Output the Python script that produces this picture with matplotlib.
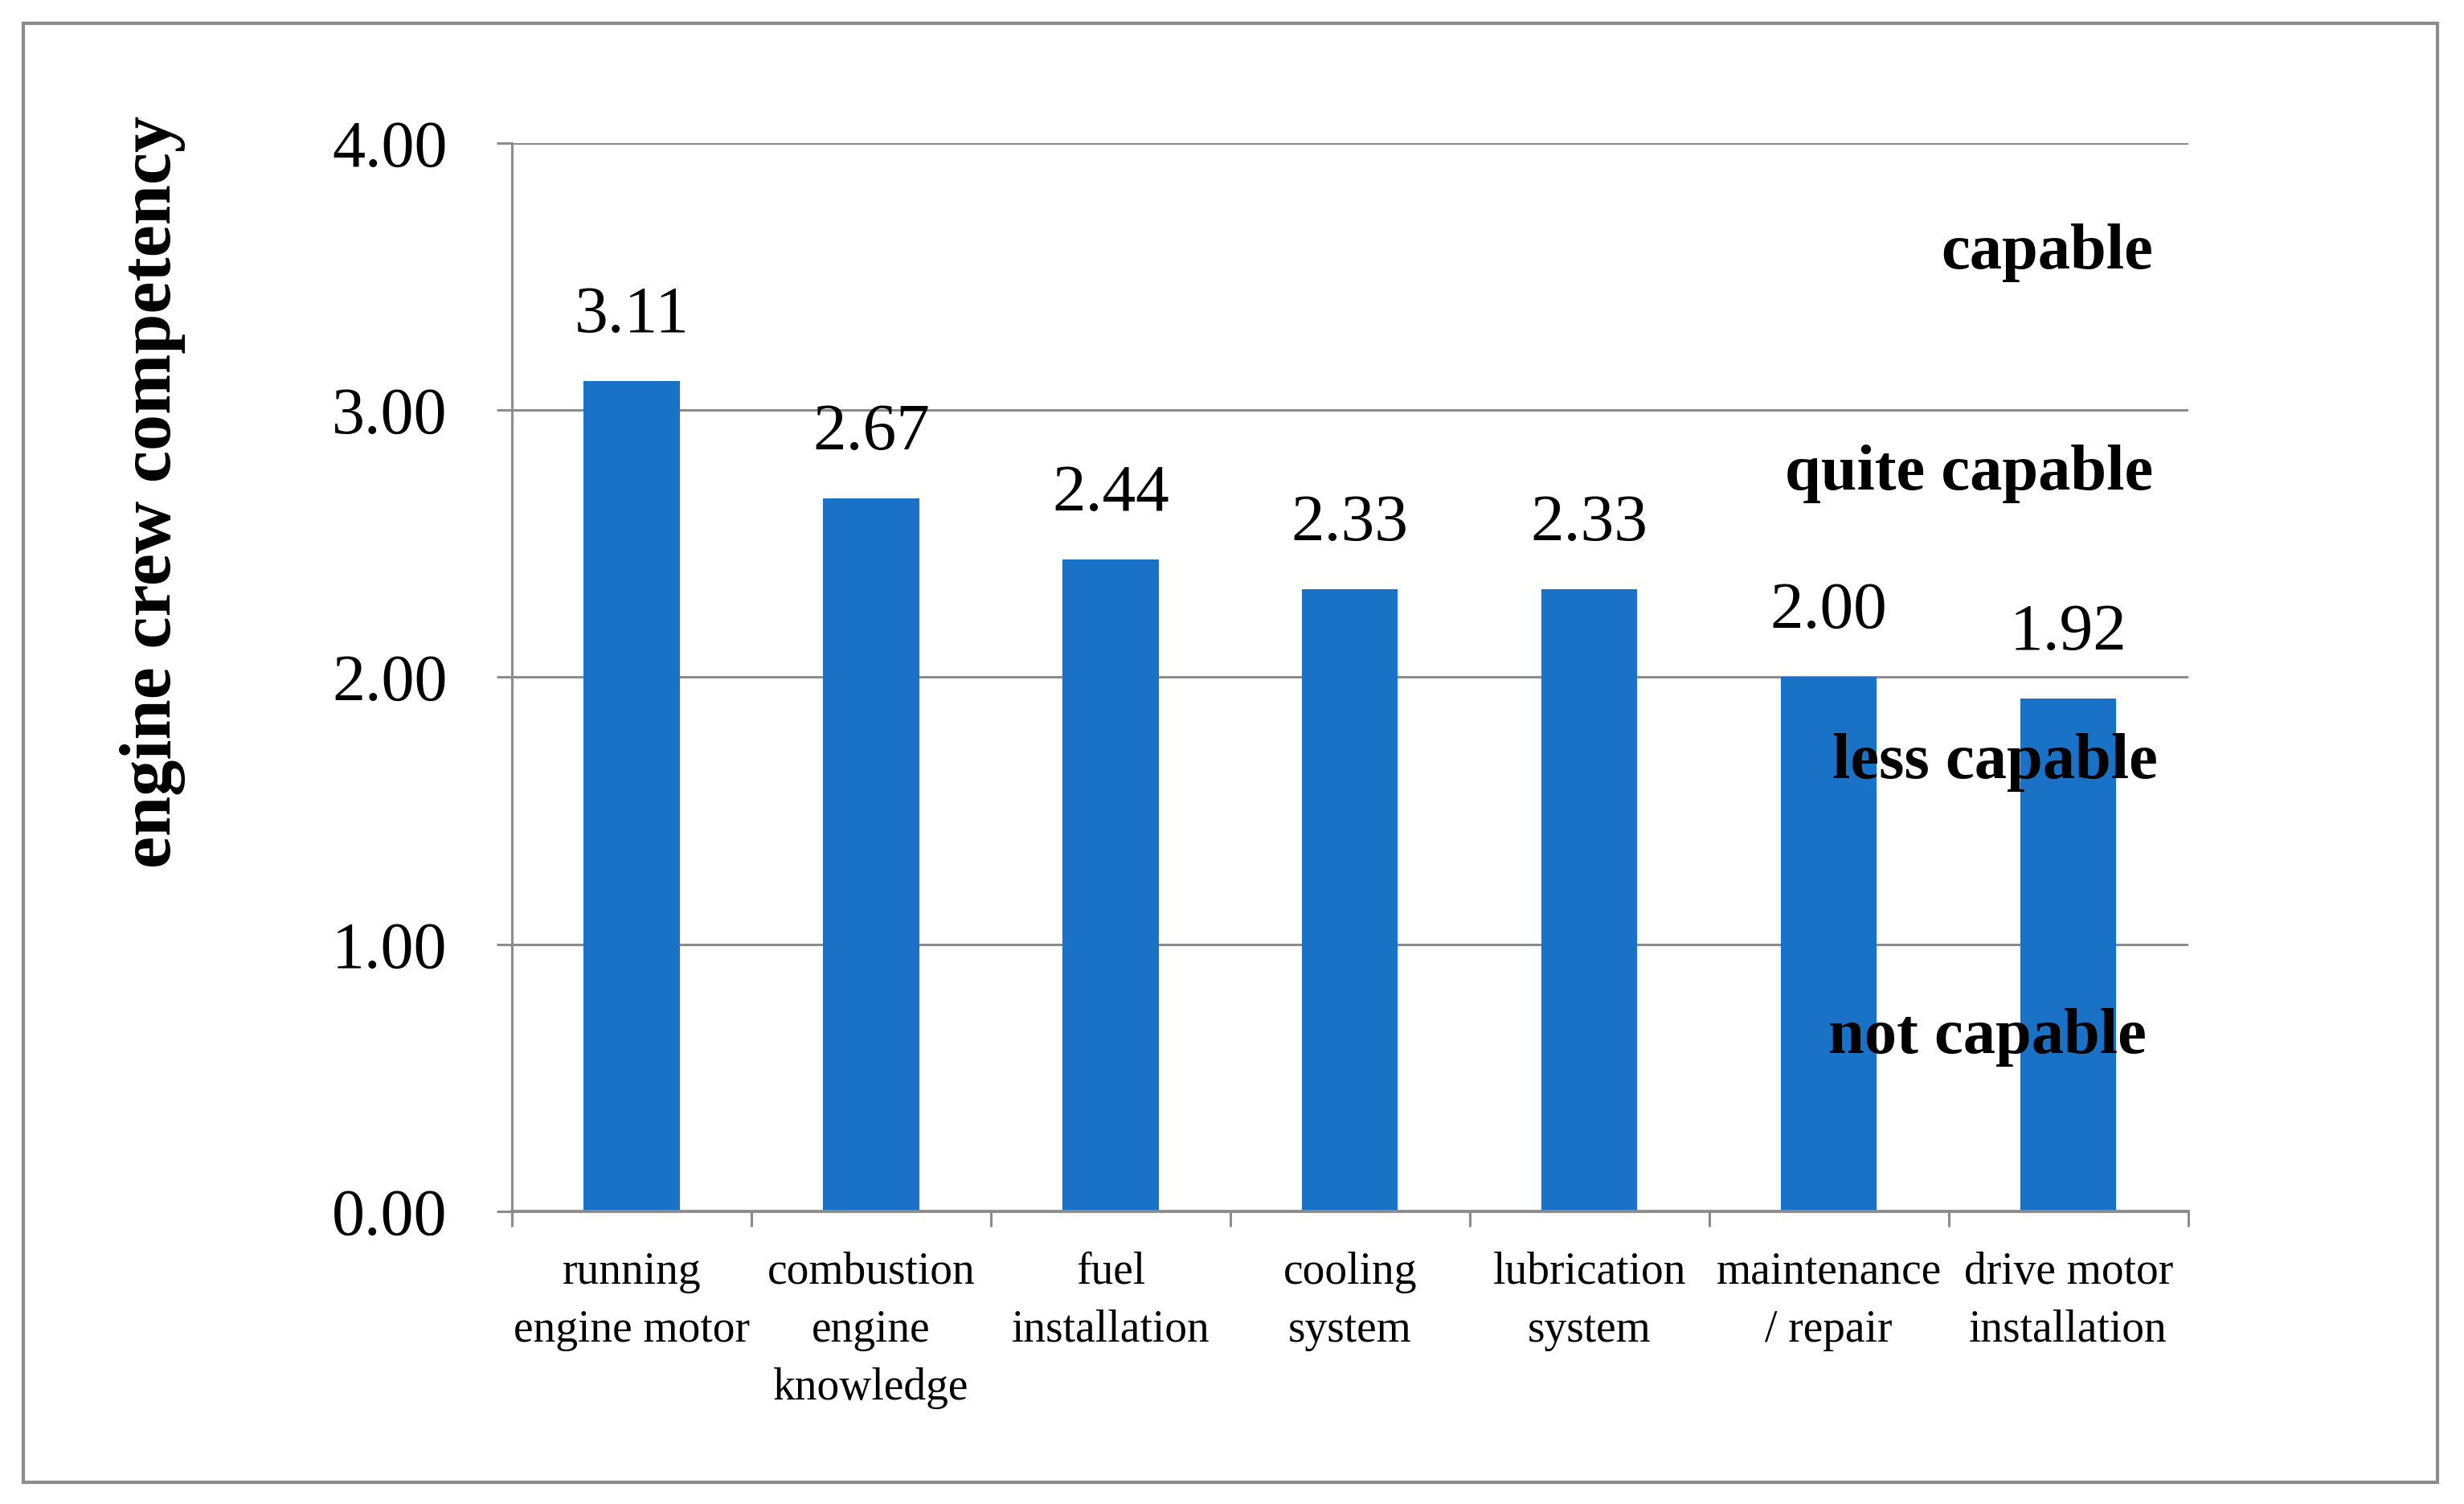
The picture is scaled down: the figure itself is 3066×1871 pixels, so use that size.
import matplotlib
matplotlib.use("Agg")
import matplotlib.pyplot as plt
from matplotlib.patches import Rectangle
import numpy as np

categories = ["running\nengine motor", "combustion\nengine\nknowledge", "fuel\ninstallation",
              "cooling\nsystem", "lubrication\nsystem", "maintenance\n/ repair",
              "drive motor\ninstallation"]
scores = [3.11, 2.67, 2.44, 2.33, 2.33, 2.00, 1.92]
yticks = [0, 1, 2, 3, 4]
band_labels = ["capable", "quite capable", "less capable", "not capable"]
band_y = [3.59, 2.76, 1.68, 0.65]
band_x = [0.979, 0.979, 0.982, 0.975]

plt.rcParams['font.family'] = ['Liberation Serif', 'DejaVu Serif']
grey = "#8c8c8c"
blue = "#1a72c6"

fig = plt.figure(figsize=(30.66, 18.71), dpi=100)
ax = fig.add_axes([0.2078, 0.1946, 0.888 - 0.2078, 0.9049 - 0.1946])

x = np.arange(len(categories))
ax.bar(x, scores, width=0.40, color=blue, zorder=3)

for xi, v in zip(x, scores):
    ax.annotate("%.2f" % v, (xi, v), xytext=(0, 44), textcoords="offset points",
                ha="center", va="baseline", fontsize=60)

ax.set_xlim(-0.5, len(categories) - 0.5)
ax.set_ylim(0, 4)
ax.set_yticks(yticks)
ax.set_yticklabels(["%.2f" % t for t in yticks], fontsize=59)
ax.tick_params(axis="y", length=14, width=2.2, color=grey, pad=44)
ax.grid(axis="y", color=grey, linewidth=2.2, zorder=0)

ax.set_xticks(x)
ax.set_xticklabels(categories, fontsize=40, linespacing=1.5)
ax.set_xticks(np.arange(len(categories) + 1) - 0.5, minor=True)
ax.tick_params(axis="x", which="major", length=0, pad=36)
ax.tick_params(axis="x", which="minor", length=14, width=2.2, color=grey)

for s in ["top", "right"]:
    ax.spines[s].set_visible(False)
ax.spines["left"].set_color(grey)
ax.spines["left"].set_linewidth(2.2)
ax.spines["bottom"].set_color(grey)
ax.spines["bottom"].set_linewidth(2.8)
ax.spines["bottom"].set_zorder(4)

for lab, yy, xx in zip(band_labels, band_y, band_x):
    ax.text(xx, yy, lab, transform=ax.get_yaxis_transform(), ha="right", va="center",
            fontsize=58, fontweight="bold", zorder=5)

fig.text(0.062, 0.673, "engine crew competency", rotation=90, ha="center", va="center",
         fontsize=65, fontweight="bold")

fig.patches.append(Rectangle((29 / 3066, 1 - 1844 / 1871), (3033 - 29) / 3066, (1844 - 29) / 1871,
                             transform=fig.transFigure, fill=False, edgecolor=grey, linewidth=3))

fig.savefig("out.png", dpi=100)
